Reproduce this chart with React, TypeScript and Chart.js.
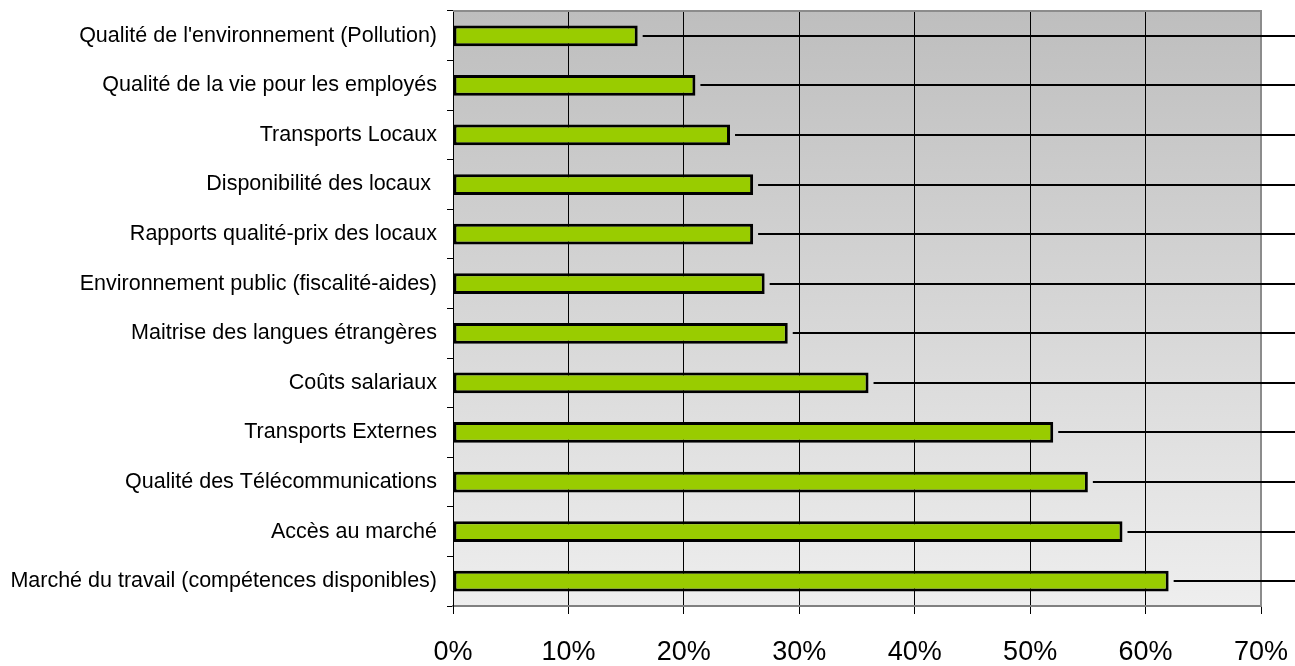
import React, { useEffect, useRef } from 'react';
import { Chart, registerables } from 'chart.js';

Chart.register(...registerables);

const categories = [
  "Qualité de l'environnement (Pollution)",
  'Qualité de la vie pour les employés',
  'Transports Locaux',
  'Disponibilité des locaux ',
  'Rapports qualité-prix des locaux',
  'Environnement public (fiscalité-aides)',
  'Maitrise des langues étrangères',
  'Coûts salariaux',
  'Transports Externes',
  'Qualité des Télécommunications',
  'Accès au marché',
  'Marché du travail (compétences disponibles)',
];

const values = [16, 21, 24, 26, 26, 27, 29, 36, 52, 55, 58, 62];

const tickLabels = ['0%', '10%', '20%', '30%', '40%', '50%', '60%', '70%'];

const FONT = "'Liberation Sans', Arial, sans-serif";

const plotBgPlugin = {
  id: 'plotBg',
  beforeDraw(chart: any) {
    const { ctx, chartArea: a } = chart;
    const g = ctx.createLinearGradient(0, a.top, 0, a.bottom);
    g.addColorStop(0, '#bebebe');
    g.addColorStop(1, '#eeeeee');
    ctx.save();
    ctx.fillStyle = g;
    ctx.fillRect(a.left, a.top, a.right - a.left, a.bottom - a.top);
    ctx.restore();
  },
  afterDatasetsDraw(chart: any) {
    const { ctx, chartArea: a } = chart;
    ctx.save();
    ctx.strokeStyle = '#8c8c8c';
    ctx.lineWidth = 2;
    ctx.beginPath();
    ctx.moveTo(a.left, a.top);
    ctx.lineTo(a.right, a.top);
    ctx.lineTo(a.right, a.bottom);
    ctx.stroke();
    ctx.restore();
  },
};

const leaderPlugin = {
  id: 'leaders',
  afterDraw(chart: any) {
    const { ctx } = chart;
    const meta = chart.getDatasetMeta(0);
    ctx.save();
    ctx.strokeStyle = '#000';
    ctx.lineWidth = 2;
    meta.data.forEach((bar: any) => {
      const y = Math.round(bar.y);
      ctx.beginPath();
      ctx.moveTo(bar.x + 5, y);
      ctx.lineTo(chart.width, y);
      ctx.stroke();
    });
    ctx.restore();
  },
};

export default function App() {
  const canvasRef = useRef<HTMLCanvasElement | null>(null);

  useEffect(() => {
    if (!canvasRef.current) return;
    const chart = new Chart(canvasRef.current, {
      type: 'bar',
      data: {
        labels: categories,
        datasets: [
          {
            data: values,
            backgroundColor: '#99cc00',
            borderColor: '#000000',
            borderWidth: 3,
            borderSkipped: false,
            categoryPercentage: 1,
            barPercentage: 0.42,
          },
        ],
      },
      options: {
        indexAxis: 'y',
        animation: false,
        responsive: true,
        maintainAspectRatio: false,
        layout: { padding: { top: 11, right: 34, bottom: 0, left: 0 } },
        plugins: {
          legend: { display: false },
          tooltip: { enabled: false },
        },
        scales: {
          x: {
            min: 0,
            max: 70,
            afterFit(scale: any) {
              scale.height = 60;
              scale.paddingLeft = 0;
              scale.paddingRight = 0;
            },
            ticks: {
              stepSize: 10,
              color: '#000',
              padding: 22,
              font: { family: FONT, size: 27 },
              maxRotation: 0,
              callback: (_v: any, i: number) => tickLabels[i],
            },
            grid: {
              color: '#000',
              lineWidth: 1,
              tickLength: 8,
              tickColor: '#000',
            },
            border: { color: '#808080', width: 2 },
          },
          y: {
            afterFit(scale: any) {
              scale.width = 453;
              scale.paddingTop = 0;
              scale.paddingBottom = 0;
            },
            ticks: {
              color: '#000',
              padding: 10,
              font: { family: FONT, size: 21.5 },
            },
            grid: {
              display: true,
              drawOnChartArea: false,
              offset: true,
              tickLength: 6,
              color: '#000',
            },
            border: { color: '#000', width: 1 },
          },
        },
      },
      plugins: [plotBgPlugin, leaderPlugin],
    });
    return () => chart.destroy();
  }, []);

  return (
    <div style={{ position: 'fixed', left: 0, top: 0, width: 1295, height: 666, background: '#fff' }}>
      <canvas ref={canvasRef} />
    </div>
  );
}
